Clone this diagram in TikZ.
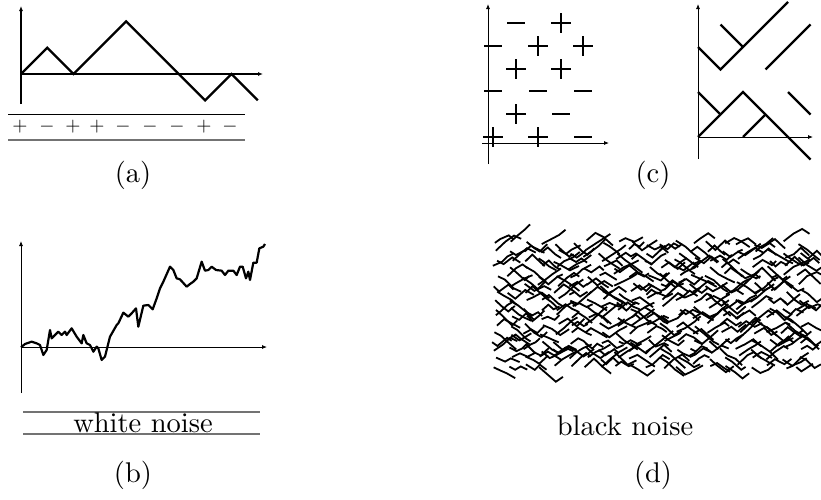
\documentclass[tikz,border=0pt]{standalone}
\usepackage{tikz}
\usepackage{graphicx}
\usetikzlibrary{arrows.meta}

\newcommand{\bigtxt}[1]{\scalebox{2.85}{#1}}
\newcommand{\sgntxt}[1]{\scalebox{1.95}{$#1$}}

\begin{document}
\begin{tikzpicture}[
  x=1pt, y=-1pt,
  lbl/.style={font=\normalsize, inner sep=0pt},
  sgn/.style={font=\normalsize, inner sep=0pt},
  axis/.style={line width=0.8pt, -{Latex[length=5pt,width=4pt]}},
  walk/.style={line width=2.3pt, line join=miter},
  rule/.style={line width=1pt},
  grayrule/.style={line width=1.3pt, black!55},
  noise/.style={line width=1.8pt},
  pplus/.pic={\draw[line width=1.2pt] (-10,0) -- (10,0) (0,-10) -- (0,10);},
  pminus/.pic={\draw[line width=2.4pt] (-9,0) -- (9,0);}
]
\useasboundingbox (0,0) rectangle (821,499);

% ── (a) walk and signs ──
\draw[axis, line width=1.8pt] (21,104) -- (21,6);
\draw[axis, line width=1.8pt] (21,74) -- (263,74);
\draw[walk] (21,74) -- (47.3,47.7) -- (73.6,74) -- (126.2,21.4) -- (178.8,74)
  -- (205.1,100.3) -- (231.4,74) -- (257.7,100.3);

\draw[rule] (8,114) -- (245,114);
\draw[grayrule] (8,140) -- (245,140);
\foreach \s/\x [count=\i] in {+/20, -/47, +/73, +/97, -/123, -/150, -/177, +/204, -/230}
  \node[sgn] (sa\i) at (\x,127) {\sgntxt{\s}};

\node[lbl] (la) at (133,175.5) {\bigtxt{(a)}};

% ── (b) white noise path ──
\draw[axis] (21,393) -- (21,241);
\draw[axis] (21,347) -- (267,347);
\begin{scope}[shift={(0,220)}, scale=1/3]
  \draw[line width=2.2pt, line join=round]
    (63,382) -- (75,372) -- (95,365) -- (110,370) -- (120,375) -- (130,405)
    -- (140,390) -- (150,330) -- (155,355) -- (175,335) -- (185,345) -- (195,335)
    -- (200,345) -- (215,325) -- (230,350) -- (245,370) -- (250,345) -- (260,370)
    -- (270,375) -- (280,395) -- (290,380) -- (295,385) -- (305,420) -- (315,410)
    -- (330,350) -- (350,315) -- (355,310) -- (370,278) -- (385,290) -- (395,280)
    -- (408,265) -- (415,320) -- (430,257) -- (445,255) -- (458,268) -- (470,235)
    -- (480,205) -- (490,185) -- (510,140) -- (520,150) -- (530,175) -- (540,178)
    -- (560,200) -- (570,192) -- (580,185) -- (590,175) -- (605,125) -- (615,152)
    -- (625,150) -- (635,140) -- (648,150) -- (665,152) -- (675,165) -- (685,152)
    -- (700,152) -- (710,165) -- (720,140) -- (728,140) -- (738,175) -- (745,155)
    -- (750,180) -- (760,128) -- (770,128) -- (778,85) -- (790,80) -- (795,72);
\end{scope}

\draw[grayrule] (23,412) -- (260,412);
\draw[grayrule] (23,434) -- (260,434);
\node[lbl, anchor=base] (wn) at (143,432) {\bigtxt{white noise}};

\node[lbl] (lb) at (133,475.5) {\bigtxt{(b)}};

% ── (c) sign lattice ──
\draw[axis] (488,164) -- (488,4);
\draw[axis] (482,143) -- (609,143);
\foreach \x/\y in {561/23, 538/46, 583/46, 516/69, 561/69, 516/114, 493/137, 538/137}
  \pic at (\x,\y) {pplus};
\foreach \x/\y in {516/23, 493/46, 493/91, 538/91, 583/91, 561/114, 583/137}
  \pic at (\x,\y) {pminus};

% ── (c) crossing lines ──
\draw[axis] (698,159) -- (698,4);
\draw[axis] (698,137) -- (813,137);
\draw[walk] (698,47) -- (720.5,69.5) -- (788,2);
\draw[walk] (720.5,24.5) -- (743,47);
\draw[walk] (765.5,69.5) -- (810.5,24.5);
\draw[walk] (698,137) -- (743,92) -- (810.5,159.5);
\draw[walk] (698,92) -- (720.5,114.5);
\draw[walk] (743,137) -- (765.5,114.5);
\draw[walk] (788,92) -- (810.5,114.5);

\node[lbl] (lc) at (653,175.5) {\bigtxt{(c)}};

% ── (d) black noise texture ──
\pgfmathsetseed{5}
\foreach \r in {0,...,15}{
  \foreach \c in {0,...,20}{
    \pgfmathsetmacro\xa{492+\c*15.2+rnd*6}
    \pgfmathsetmacro\ya{243+\r*8.2+rand*2.5}
    \pgfmathsetmacro\dxa{5+rnd*5}
    \pgfmathsetmacro\xb{\xa+\dxa}
    \pgfmathsetmacro\yb{\ya+(rnd<0.5 ? -1 : 1)*\dxa*(0.4+0.6*rnd)}
    \pgfmathsetmacro\dxb{5+rnd*5}
    \pgfmathsetmacro\xc{\xb+\dxb}
    \pgfmathsetmacro\yc{\yb+(rnd<0.5 ? -1 : 1)*\dxb*(0.4+0.6*rnd)}
    \pgfmathsetmacro\dxc{4+rnd*5}
    \pgfmathsetmacro\xd{\xc+\dxc}
    \pgfmathsetmacro\yd{\yc+(rnd<0.5 ? -1 : 1)*\dxc*(0.4+0.6*rnd)}
    \draw[noise] (\xa,\ya) -- (\xb,\yb) -- (\xc,\yc) -- (\xd,\yd);
  }
}

\node[lbl, anchor=base] (bn) at (625,435) {\bigtxt{black noise}};

\node[lbl] (ld) at (653,475.5) {\bigtxt{(d)}};

\end{tikzpicture}
\end{document}
